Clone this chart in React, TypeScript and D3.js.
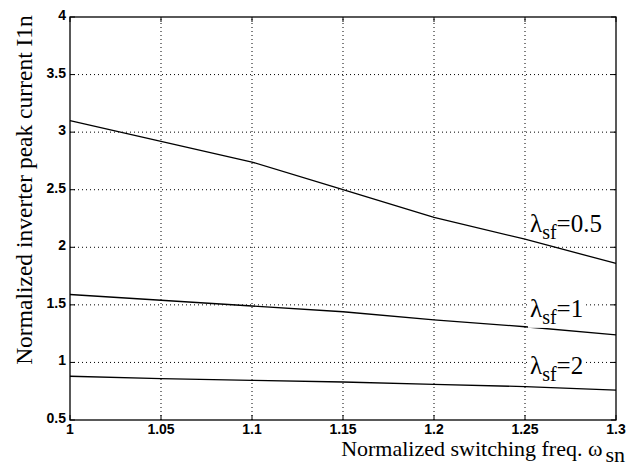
import { useRef, useEffect } from "react";
import * as d3 from "d3";

// normalized switching freq (x) samples
const freq = [1, 1.05, 1.1, 1.15, 1.2, 1.25, 1.3];
// normalized inverter peak current for each lambda_sf
const lam05 = [3.1, 2.92, 2.74, 2.5, 2.26, 2.07, 1.86];
const lam1 = [1.59, 1.54, 1.49, 1.44, 1.37, 1.31, 1.24];
const lam2 = [0.88, 0.86, 0.845, 0.83, 0.81, 0.79, 0.76];
const curveLabels = ["0.5", "1", "2"];
const xTicks = [1, 1.05, 1.1, 1.15, 1.2, 1.25, 1.3];
const yTicks = [0.5, 1, 1.5, 2, 2.5, 3, 3.5, 4];

export default function App() {
  const width = 642;
  const height = 466;
  const root = useRef<SVGSVGElement>(null);

  const x = d3.scaleLinear([1, 1.3], [70, 616]);
  const y = d3.scaleLinear([0.5, 4], [420, 17]);

  useEffect(() => {
    document.body.style.margin = "0";
    const svg = d3.select(root.current);
    svg.selectAll("*").remove();

    // grid
    const grid = svg.append("g").attr("stroke", "#000").attr("stroke-width", 1).attr("stroke-dasharray", "1,3");
    grid.selectAll("line.gx")
      .data(xTicks.slice(1, -1))
      .enter().append("line")
      .attr("x1", d => x(d)).attr("x2", d => x(d))
      .attr("y1", y(0.5)).attr("y2", y(4));
    grid.selectAll("line.gy")
      .data(yTicks.slice(1, -1))
      .enter().append("line")
      .attr("y1", d => y(d)).attr("y2", d => y(d))
      .attr("x1", x(1)).attr("x2", x(1.3));

    // inward ticks on all four sides
    const ticks = svg.append("g").attr("stroke", "#000").attr("stroke-width", 1);
    xTicks.forEach(t => {
      ticks.append("line").attr("x1", x(t)).attr("x2", x(t)).attr("y1", y(0.5)).attr("y2", y(0.5) - 5);
      ticks.append("line").attr("x1", x(t)).attr("x2", x(t)).attr("y1", y(4)).attr("y2", y(4) + 5);
    });
    yTicks.forEach(t => {
      ticks.append("line").attr("y1", y(t)).attr("y2", y(t)).attr("x1", x(1)).attr("x2", x(1) + 5);
      ticks.append("line").attr("y1", y(t)).attr("y2", y(t)).attr("x1", x(1.3)).attr("x2", x(1.3) - 5);
    });

    // box
    svg.append("rect")
      .attr("x", x(1)).attr("y", y(4))
      .attr("width", x(1.3) - x(1)).attr("height", y(0.5) - y(4))
      .attr("fill", "none").attr("stroke", "#000").attr("stroke-width", 1.3);

    // tick labels
    svg.append("g").selectAll("text")
      .data(xTicks).enter().append("text")
      .attr("x", d => x(d)).attr("y", y(0.5) + 14)
      .attr("text-anchor", "middle")
      .attr("font-family", "Liberation Sans, Arial, sans-serif")
      .attr("font-weight", "bold").attr("font-size", 14)
      .text(d => d3.format("")(d));
    svg.append("g").selectAll("text")
      .data(yTicks).enter().append("text")
      .attr("x", x(1) - 4).attr("y", d => y(d) + 3)
      .attr("text-anchor", "end")
      .attr("font-family", "Liberation Sans, Arial, sans-serif")
      .attr("font-weight", "bold").attr("font-size", 14)
      .text(d => d3.format("")(d));

    // curves
    const line = d3.line<number>().x((d, i) => x(freq[i])).y(d => y(d));
    [lam05, lam1, lam2].forEach(s => {
      svg.append("path").attr("d", line(s)).attr("fill", "none").attr("stroke", "#000").attr("stroke-width", 1.3);
    });

    // lambda labels (white box hides the grid behind the lower two)
    const labelPos = [[530, 2.0, -15], [530, 1.5, 12], [530, 1.0, 12]];
    curveLabels.forEach((l, i) => {
      const g = svg.append("g");
      const t = g.append("text")
        .attr("x", labelPos[i][0]).attr("y", y(labelPos[i][1]) + labelPos[i][2])
        .attr("font-family", "Liberation Serif, Times New Roman, serif")
        .attr("font-size", 25);
      t.append("tspan").text("λ");
      t.append("tspan").attr("dy", 7).attr("font-size", 20).text("sf");
      t.append("tspan").attr("dy", -7).text("=" + l);
      if (i > 0) {
        const b = (t.node() as SVGTextElement).getBBox();
        g.insert("rect", "text")
          .attr("x", b.x - 2).attr("y", b.y + 3)
          .attr("width", b.width + 4).attr("height", b.height - 3)
          .attr("fill", "#fff");
      }
    });

    // y title
    svg.append("text")
      .attr("transform", `translate(32,190) rotate(-90)`)
      .attr("text-anchor", "middle")
      .attr("font-family", "Liberation Serif, Times New Roman, serif")
      .attr("font-size", 23.5)
      .text("Normalized inverter peak current I1n");

    // x title
    const xt = svg.append("text")
      .attr("x", 625).attr("y", 456)
      .attr("text-anchor", "end")
      .attr("font-family", "Liberation Serif, Times New Roman, serif")
      .attr("font-size", 22);
    xt.append("tspan").text("Normalized switching freq. ω");
    xt.append("tspan").attr("dy", 6).attr("dx", 3).text("sn");
  });

  return (
    <svg width={width} height={height} ref={root} style={{ display: "block", background: "#fff" }}></svg>
  );
}
